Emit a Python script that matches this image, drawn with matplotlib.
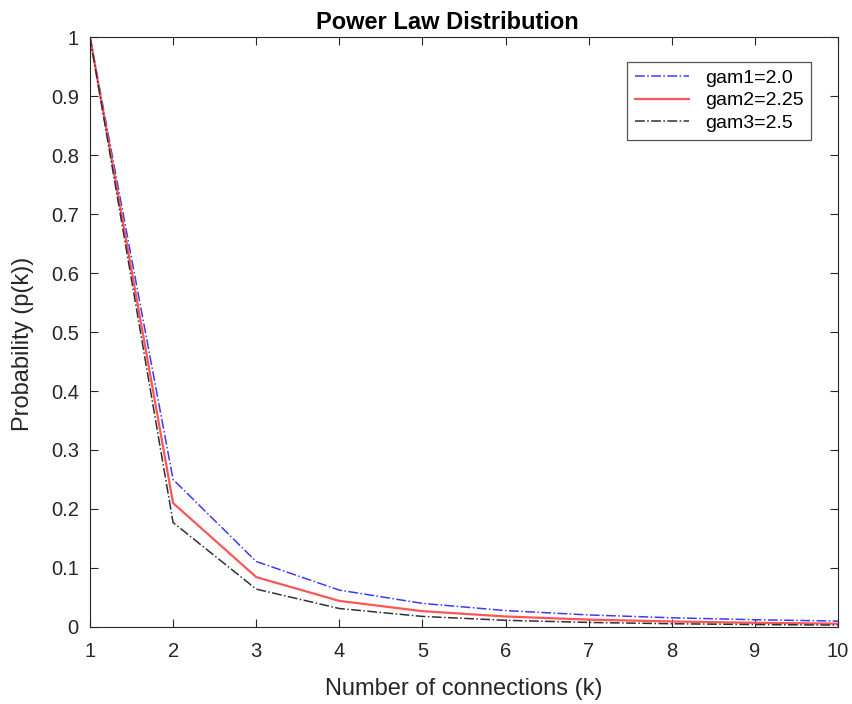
import numpy as np
import matplotlib.pyplot as plt

plt.rcParams['font.family'] = ['Liberation Sans', 'DejaVu Sans']

# Power law p(k) for three exponents, k = 1..10
k = [1, 2, 3, 4, 5, 6, 7, 8, 9, 10]
gam1 = [1.0, 0.25, 0.111, 0.0625, 0.04, 0.0278, 0.0204, 0.0156, 0.0123, 0.01]
gam2 = [1.0, 0.210, 0.0846, 0.0442, 0.0268, 0.0178, 0.0125, 0.0093, 0.0071, 0.0056]
gam3 = [1.0, 0.177, 0.0642, 0.0313, 0.0179, 0.0113, 0.0077, 0.0055, 0.0041, 0.0032]

fig = plt.figure(figsize=(8.52, 7.04), dpi=100)
ax = fig.add_axes([0.1056, 0.1094, 0.878, 0.838])

ax.plot(k, gam1, color='#3a3aff', ls='-.', lw=1.1, label='gam1=2.0')
ax.plot(k, gam2, color='#ff5555', ls='-', lw=1.6, label='gam2=2.25')
ax.plot(k, gam3, color='#303030', ls='-.', lw=1.1, label='gam3=2.5')

ax.set_xlim(1, 10)
ax.set_ylim(0, 1)
ax.set_xticks(np.arange(1, 11))
ax.set_yticks(np.arange(0, 1.01, 0.1))
ax.set_yticklabels(['0', '0.1', '0.2', '0.3', '0.4', '0.5', '0.6', '0.7', '0.8', '0.9', '1'])
ax.tick_params(direction='in', length=6, labelsize=14.5, colors='#262626')
ax.tick_params(axis='x', pad=11)
ax.tick_params(axis='y', pad=8)
ax.tick_params(top=True, right=True)
for s in ax.spines.values():
    s.set_color('#262626')
    s.set_linewidth(0.8)

ax.set_xlabel('Number of connections (k)', fontsize=17, color='#262626', labelpad=12)
ax.set_ylabel('Probability (p(k))', fontsize=17, color='#262626')
ax.yaxis.set_label_coords(-0.075, 0.48)
ax.set_title('Power Law Distribution', fontsize=17, fontweight='bold', pad=6, x=0.478)

leg = ax.legend(loc='upper right', bbox_to_anchor=(0.977, 0.975), fontsize=14,
                fancybox=False, framealpha=1, edgecolor='#555555',
                handlelength=2.8, borderpad=0.4, labelspacing=0.25)
leg.get_frame().set_linewidth(0.9)

fig.savefig('out.png', dpi=100)
